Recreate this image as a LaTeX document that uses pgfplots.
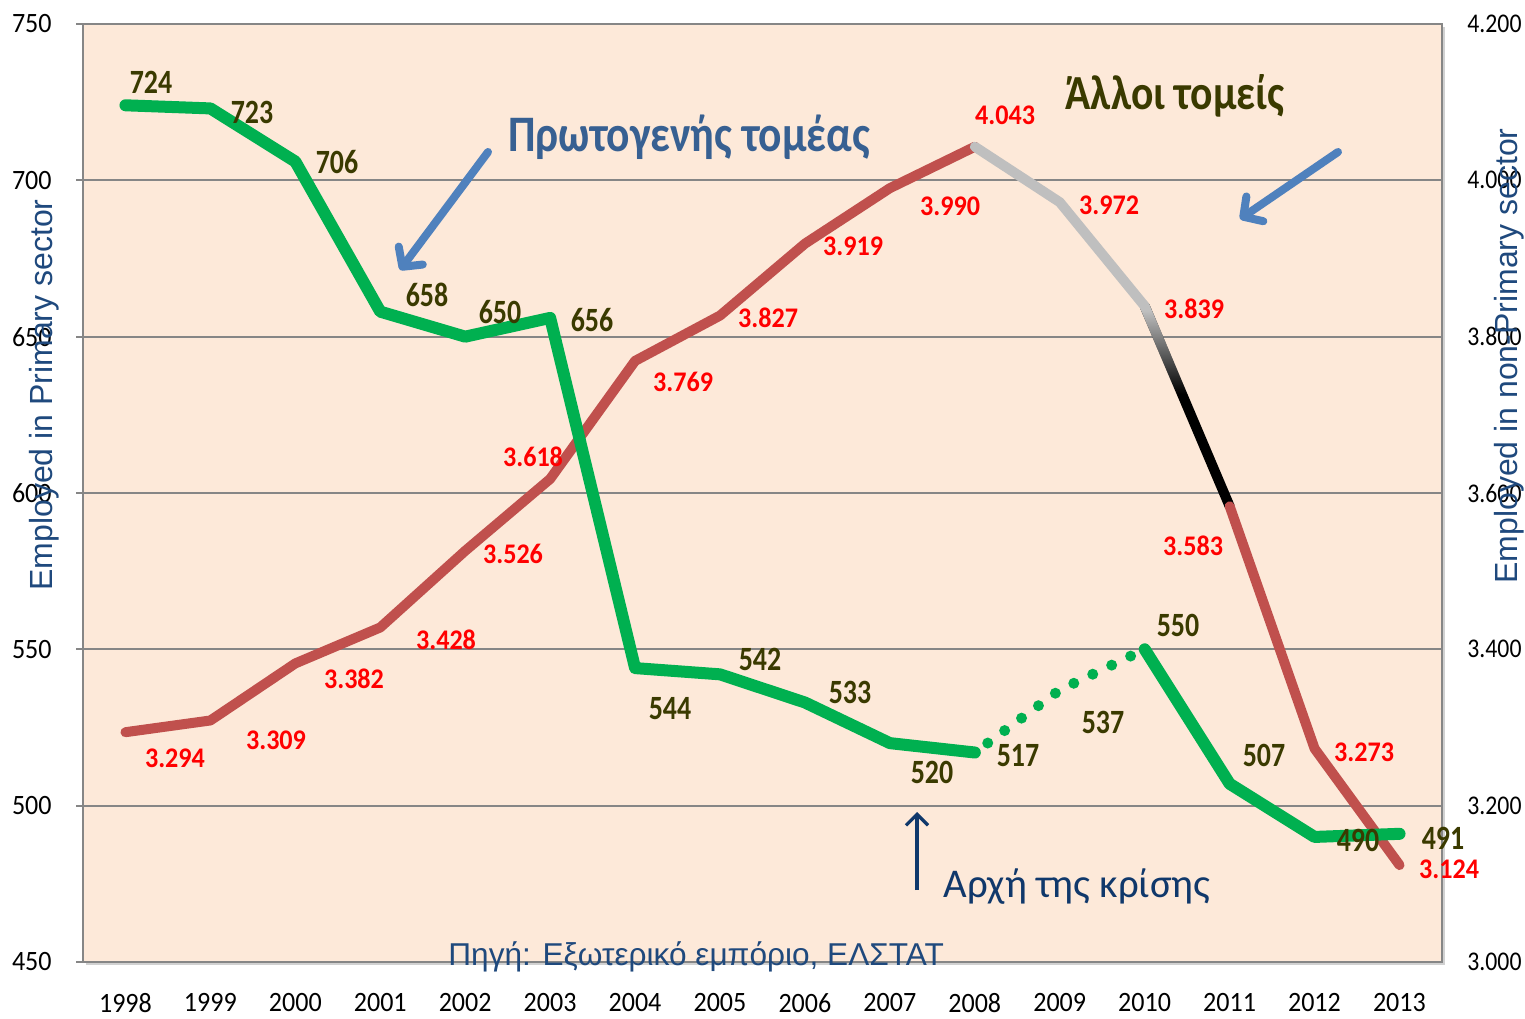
\documentclass[border=0pt]{standalone}
\usepackage{fontspec}
\setmainfont{Carlito}
\newfontfamily\arialf{Liberation Sans}
\newfontfamily\calG[FakeStretch=0.82]{Carlito}
\newfontfamily\calR[FakeStretch=0.92]{Carlito}
\newfontfamily\calT[FakeStretch=0.93]{Carlito}
\newfontfamily\calN[FakeStretch=0.88]{Carlito}
\newfontfamily\calP[FakeStretch=0.85]{Carlito}
\usepackage{pgfplots}
\pgfplotsset{compat=1.18}
\usetikzlibrary{arrows.meta,fadings}
\definecolor{bgpeach}{HTML}{FDE9D9}
\definecolor{gridgray}{HTML}{868686}
\definecolor{greenline}{HTML}{00B050}
\definecolor{redline}{HTML}{C0504D}
\definecolor{grayline}{HTML}{BFBFBF}
\definecolor{olive}{HTML}{3A3A00}
\definecolor{lblred}{HTML}{FF0000}
\definecolor{arrowblue}{HTML}{4F81BD}
\definecolor{primtext}{HTML}{376092}
\definecolor{navy}{HTML}{10386B}
\definecolor{axisnavy}{HTML}{1F497D}
\begin{tikzfadingfrompicture}[name=gfade]
  \fill[transparent!100] (-1,-1) rectangle (1,1);
  \fill[transparent!0] (-1,0.8) rectangle (1,1);
  \shade[top color=transparent!0, bottom color=transparent!100] (-1,0.1) rectangle (1,0.8);
\end{tikzfadingfrompicture}
\newcommand\gl[3]{\node[inner sep=0pt, text=olive, font=\calG\fontsize{17}{18}\selectfont\bfseries] at (#1,#2) {#3};}
\newcommand\rl[3]{\node[inner sep=0pt, text=lblred, font=\calR\fontsize{14.2}{16}\selectfont\bfseries] at (#1,#2) {#3};}
\begin{document}
\begin{tikzpicture}
\path[use as bounding box] (-41.5pt,-28pt) rectangle (721pt,481pt);
\fill[black!18] (1.5pt,-1.5pt) rectangle (681pt,467.5pt);
% right axis: non-primary sector
\begin{axis}[
  at={(0pt,0pt)}, anchor=south west,
  width=679.5pt, height=469pt, scale only axis,
  xmin=1997.5, xmax=2013.5, ymin=3000, ymax=4200,
  xtick=\empty,
  ytick={3000,3200,3400,3600,3800,4000,4200},
  yticklabels={3.000,3.200,3.400,3.600,3.800,4.000,4.200},
  scaled y ticks=false,
  yticklabel pos=right,
  axis background/.style={fill=bgpeach},
  ymajorgrids, grid style={gridgray, line width=1pt},
  axis line style={gridgray, line width=1pt},
  tick style={draw=none},
  /pgf/number format/assume math mode=true,
  yticklabel style={font=\calN\fontsize{13.5}{15}\selectfont, inner sep=0pt, anchor=west, xshift=12.5pt},
  clip=false,
]
\addplot[redline, line width=5pt, line cap=round, line join=round] coordinates {
  (1998,3294) (1999,3309) (2000,3382) (2001,3428) (2002,3526) (2003,3618)
  (2004,3769) (2005,3827) (2006,3919) (2007,3990) (2008,4043)};
\addplot[black, line width=5pt, line cap=round, line join=round] coordinates {(2010,3839) (2011,3583)};
\addplot[grayline, line width=5pt, line cap=round, line join=round, path fading=gfade, fit fading=true] coordinates {(2010,3839) (2011,3583)};
\addplot[grayline, line width=5pt, line cap=round, line join=round] coordinates {(2008,4043) (2009,3972) (2010,3839)};
\addplot[redline, line width=5pt, line cap=round, line join=round] coordinates {(2011,3583) (2012,3273) (2013,3124)};
\end{axis}
% left axis: primary sector
\begin{axis}[
  at={(0pt,0pt)}, anchor=south west,
  width=679.5pt, height=469pt, scale only axis,
  xmin=1997.5, xmax=2013.5, ymin=450, ymax=750,
  xtick={1998,1999,...,2013},
  xticklabels={1998,1999,2000,2001,2002,2003,2004,2005,2006,2007,2008,2009,2010,2011,2012,2013},
  ytick={450,500,...,750},
  axis x line*=bottom, axis y line*=left,
  axis line style={gridgray, line width=1pt},
  tick align=outside, major tick length=3.5pt,
  ytick style={gridgray, line width=1pt},
  xtick style={draw=none},
  /pgf/number format/assume math mode=true,
  yticklabel style={font=\calT\fontsize{14}{15}\selectfont, inner sep=0pt, anchor=east, xshift=-12pt},
  xticklabel style={font=\calT\fontsize{14}{15}\selectfont, inner sep=0pt, anchor=north, yshift=-12pt},
  clip=false,
]
\addplot[greenline, line width=6pt, line cap=round, line join=round] coordinates {
  (1998,724) (1999,723) (2000,706) (2001,658) (2002,650) (2003,656)
  (2004,544) (2005,542) (2006,533) (2007,520) (2008,517)};
\addplot[greenline, line width=5.5pt, line cap=round, dash pattern=on 0pt off 10.5pt, dash phase=-8pt] coordinates {(2008,517) (2009,537) (2010,550)};
\addplot[greenline, line width=6pt, line cap=round, line join=round] coordinates {
  (2010,550) (2011,507) (2012,490) (2013,491)};
\end{axis}
\begin{scope}[shift={(-41.5pt,481pt)}, x=0.5pt, y=-0.5pt]
% green labels
\gl{151}{82}{724}
\gl{252}{112}{723}
\gl{337}{162}{706}
\gl{427}{295}{658}
\gl{500}{312}{650}
\gl{592}{320}{656}
\gl{670}{709}{544}
\gl{760}{659}{542}
\gl{850}{692}{533}
\gl{932}{772}{520}
\gl{1018}{756}{517}
\gl{1103}{722}{537}
\gl{1178}{625}{550}
\gl{1264}{755}{507}
\gl{1358}{840}{490}
\gl{1443}{838}{491}
% red labels
\rl{175}{758}{3.294}
\rl{276}{740}{3.309}
\rl{354}{679}{3.382}
\rl{446}{640}{3.428}
\rl{513}{554}{3.526}
\rl{533}{457}{3.618}
\rl{683}{382}{3.769}
\rl{768}{318}{3.827}
\rl{853}{246}{3.919}
\rl{950}{206}{3.990}
\rl{1005}{115}{4.043}
\rl{1109}{205}{3.972}
\rl{1194}{309}{3.839}
\rl{1193}{546}{3.583}
\rl{1364}{752}{3.273}
\rl{1449}{869}{3.124}
% annotations
\node[inner sep=0pt, anchor=base west, text=primtext, font=\calP\fontsize{25.6}{30}\selectfont\bfseries] at (508,152) {Πρωτογενής τομέας};
\node[inner sep=0pt, anchor=base west, text=olive, font=\calP\fontsize{24.5}{28}\selectfont\bfseries] at (1065,110) {Άλλοι τομείς};
\draw[arrowblue, line width=4pt, line cap=round, -{Straight Barb[length=7pt,width=15pt,round]}] (488,152) -- (400,270);
\draw[arrowblue, line width=4pt, line cap=round, -{Straight Barb[length=7pt,width=15pt,round]}] (1338,152) -- (1240,219);
\draw[navy, line width=1.6pt, -{Straight Barb[length=5.5pt,width=11pt]}] (917,890) -- (917,812);
\node[inner sep=0pt, anchor=base west, text=navy, font=\fontsize{20.4}{23}\selectfont] at (943,897) {Αρχή της κρίσης};
\node[inner sep=0pt, anchor=base west, text=axisnavy, font=\arialf\fontsize{15.8}{18}\selectfont] at (448,965) {Πηγή: Εξωτερικό εμπόριο, ΕΛΣΤΑΤ};
\node[inner sep=0pt, anchor=base, rotate=90, text=axisnavy, font=\arialf\fontsize{16}{18}\selectfont] at (52,395) {Employed in Primary sector};
\node[inner sep=0pt, anchor=base, rotate=90, text=axisnavy, font=\arialf\fontsize{16}{18}\selectfont] at (1517,356) {Employed in non-Primary sector};
\end{scope}
\end{tikzpicture}
\end{document}
